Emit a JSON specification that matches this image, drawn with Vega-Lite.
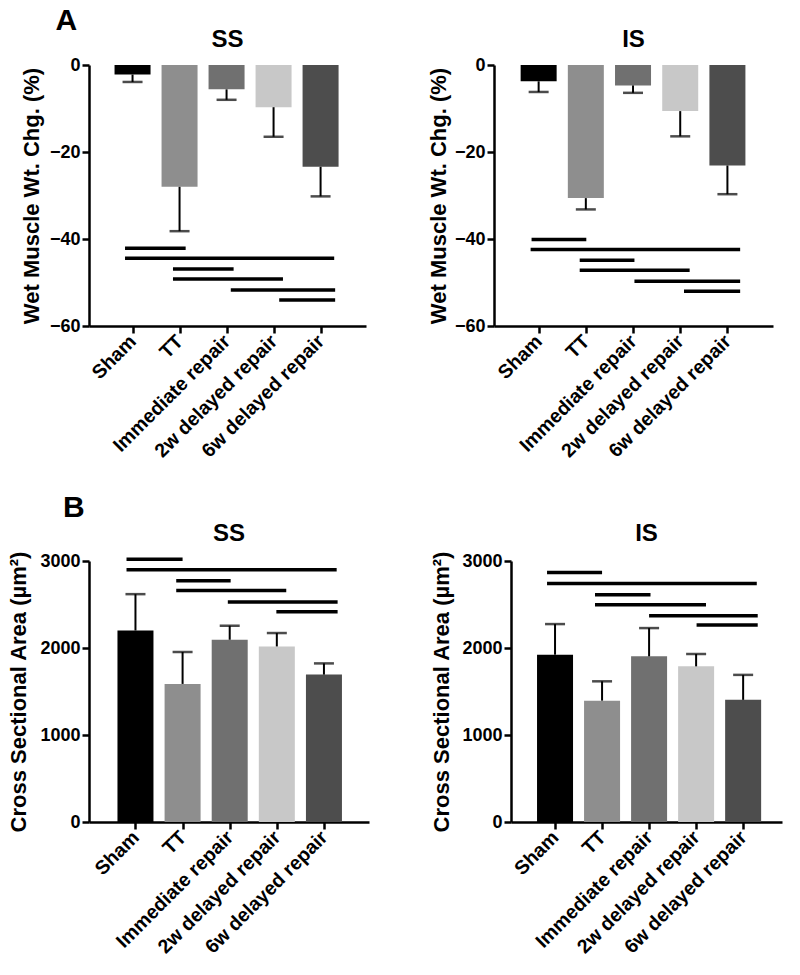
{
  "$schema": "https://vega.github.io/schema/vega-lite/v6.json",
  "padding": {"left": 0, "top": 6, "right": 5, "bottom": 5},
  "datasets": {
    "A_SS_bars": [
      {"i": 0, "g": "Sham", "mean": -2.2, "end": -3.9},
      {"i": 1, "g": "TT", "mean": -28.0, "end": -38.2},
      {"i": 2, "g": "Immediate repair", "mean": -5.6, "end": -8.0},
      {"i": 3, "g": "2w delayed repair", "mean": -9.7, "end": -16.5},
      {"i": 4, "g": "6w delayed repair", "mean": -23.4, "end": -30.2}
    ],
    "A_SS_sig": [
      {"x1": -0.16, "x2": 1.13, "y": -42.1},
      {"x1": -0.16, "x2": 4.29, "y": -44.4},
      {"x1": 0.86, "x2": 2.15, "y": -46.9},
      {"x1": 0.86, "x2": 3.2, "y": -49.2},
      {"x1": 2.09, "x2": 4.31, "y": -51.7},
      {"x1": 3.12, "x2": 4.31, "y": -54.0}
    ],
    "A_IS_bars": [
      {"i": 0, "g": "Sham", "mean": -3.75, "end": -6.2},
      {"i": 1, "g": "TT", "mean": -30.6, "end": -33.2},
      {"i": 2, "g": "Immediate repair", "mean": -4.7, "end": -6.4},
      {"i": 3, "g": "2w delayed repair", "mean": -10.6, "end": -16.4},
      {"i": 4, "g": "6w delayed repair", "mean": -23.1, "end": -29.7}
    ],
    "A_IS_sig": [
      {"x1": -0.15, "x2": 1.01, "y": -40.1},
      {"x1": -0.17, "x2": 4.27, "y": -42.4},
      {"x1": 0.87, "x2": 2.03, "y": -44.9},
      {"x1": 0.87, "x2": 3.2, "y": -47.2},
      {"x1": 2.03, "x2": 4.27, "y": -49.7},
      {"x1": 3.08, "x2": 4.27, "y": -52.0}
    ],
    "B_SS_bars": [
      {"i": 0, "g": "Sham", "mean": 2201, "end": 2619},
      {"i": 1, "g": "TT", "mean": 1587, "end": 1954},
      {"i": 2, "g": "Immediate repair", "mean": 2095, "end": 2256},
      {"i": 3, "g": "2w delayed repair", "mean": 2018, "end": 2172},
      {"i": 4, "g": "6w delayed repair", "mean": 1694, "end": 1823}
    ],
    "B_SS_sig": [
      {"x1": -0.19, "x2": 1.0, "y": 3020},
      {"x1": -0.19, "x2": 4.27, "y": 2898},
      {"x1": 0.865, "x2": 2.02, "y": 2772},
      {"x1": 0.865, "x2": 3.2, "y": 2661},
      {"x1": 1.96, "x2": 4.29, "y": 2528},
      {"x1": 2.99, "x2": 4.29, "y": 2416}
    ],
    "B_IS_bars": [
      {"i": 0, "g": "Sham", "mean": 1923, "end": 2275},
      {"i": 1, "g": "TT", "mean": 1395, "end": 1617},
      {"i": 2, "g": "Immediate repair", "mean": 1904, "end": 2229},
      {"i": 3, "g": "2w delayed repair", "mean": 1789, "end": 1931},
      {"i": 4, "g": "6w delayed repair", "mean": 1404, "end": 1691}
    ],
    "B_IS_sig": [
      {"x1": -0.17, "x2": 1.0, "y": 2867},
      {"x1": -0.17, "x2": 4.29, "y": 2741},
      {"x1": 0.85, "x2": 2.03, "y": 2611},
      {"x1": 0.85, "x2": 3.21, "y": 2497},
      {"x1": 2.0, "x2": 4.31, "y": 2370},
      {"x1": 3.01, "x2": 4.31, "y": 2264}
    ]
  },
  "vconcat": [
    {
      "title": {"text": "A", "anchor": "start", "fontSize": 30, "dx": 55, "offset": -8},
      "spacing": 128,
      "bounds": "flush",
      "resolve": {"scale": {"x": "independent", "y": "independent", "color": "independent"}},
      "hconcat": [
        {
          "width": 277, "height": 261,
          "title": {"text": "SS", "offset": 4},
          "layer": [
            {
              "data": {"name": "A_SS_bars"},
              "mark": {"type": "bar", "orient": "vertical", "width": 36},
              "encoding": {
                "x": {"field": "i", "type": "quantitative", "scale": {"domain": [-0.82, 4.86], "nice": false, "zero": false},
                  "axis": {"values": [0, 1, 2, 3, 4], "labelExpr": "['Sham','TT','Immediate repair','2w delayed repair','6w delayed repair'][datum.value]", "title": null, "labelAngle": -45, "labelAlign": "right", "labelBaseline": "middle", "labelPadding": 5, "labelFontSize": 19.5, "labelOverlap": false}},
                "y": {"field": "mean", "type": "quantitative", "scale": {"domain": [-60, 0], "nice": false},
                  "axis": {"values": [-60, -40, -20, 0], "format": "d", "title": ["", "Wet Muscle Wt. Chg. (%)"], "titleLineHeight": 20, "titlePadding": 6, "labelPadding": 2}},
                "color": {"field": "g", "type": "nominal", "legend": null,
                  "scale": {"domain": ["Sham", "TT", "Immediate repair", "2w delayed repair", "6w delayed repair"], "range": ["#000000", "#8e8e8e", "#707070", "#c8c8c8", "#4d4d4d"]}}
              }
            },
            {
              "data": {"name": "A_SS_bars"},
              "mark": {"type": "rule", "color": "black", "strokeWidth": 2},
              "encoding": {"x": {"field": "i", "type": "quantitative"}, "y": {"field": "mean", "type": "quantitative"}, "y2": {"field": "end"}}
            },
            {
              "data": {"name": "A_SS_bars"},
              "mark": {"type": "tick", "orient": "horizontal", "color": "black", "size": 20, "thickness": 2.5},
              "encoding": {"x": {"field": "i", "type": "quantitative"}, "y": {"field": "end", "type": "quantitative"}}
            },
            {
              "data": {"name": "A_SS_sig"},
              "mark": {"type": "rule", "color": "black", "strokeWidth": 3.5},
              "encoding": {"x": {"field": "x1", "type": "quantitative"}, "x2": {"field": "x2"}, "y": {"field": "y", "type": "quantitative"}}
            },
            {
              "mark": {"type": "rule", "color": "black", "strokeWidth": 2.5},
              "encoding": {"y": {"datum": 0, "type": "quantitative"}}
            }
          ]
        },
        {
          "width": 279, "height": 261,
          "title": {"text": "IS", "offset": 4},
          "layer": [
            {
              "data": {"name": "A_IS_bars"},
              "mark": {"type": "bar", "orient": "vertical", "width": 36},
              "encoding": {
                "x": {"field": "i", "type": "quantitative", "scale": {"domain": [-0.84, 4.86], "nice": false, "zero": false},
                  "axis": {"values": [0, 1, 2, 3, 4], "labelExpr": "['Sham','TT','Immediate repair','2w delayed repair','6w delayed repair'][datum.value]", "title": null, "labelAngle": -45, "labelAlign": "right", "labelBaseline": "middle", "labelPadding": 5, "labelFontSize": 19.5, "labelOverlap": false}},
                "y": {"field": "mean", "type": "quantitative", "scale": {"domain": [-60, 0], "nice": false},
                  "axis": {"values": [-60, -40, -20, 0], "format": "d", "title": "Wet Muscle Wt. Chg. (%)", "titlePadding": 4, "labelPadding": 2}},
                "color": {"field": "g", "type": "nominal", "legend": null,
                  "scale": {"domain": ["Sham", "TT", "Immediate repair", "2w delayed repair", "6w delayed repair"], "range": ["#000000", "#8e8e8e", "#707070", "#c8c8c8", "#4d4d4d"]}}
              }
            },
            {
              "data": {"name": "A_IS_bars"},
              "mark": {"type": "rule", "color": "black", "strokeWidth": 2},
              "encoding": {"x": {"field": "i", "type": "quantitative"}, "y": {"field": "mean", "type": "quantitative"}, "y2": {"field": "end"}}
            },
            {
              "data": {"name": "A_IS_bars"},
              "mark": {"type": "tick", "orient": "horizontal", "color": "black", "size": 20, "thickness": 2.5},
              "encoding": {"x": {"field": "i", "type": "quantitative"}, "y": {"field": "end", "type": "quantitative"}}
            },
            {
              "data": {"name": "A_IS_sig"},
              "mark": {"type": "rule", "color": "black", "strokeWidth": 3.5},
              "encoding": {"x": {"field": "x1", "type": "quantitative"}, "x2": {"field": "x2"}, "y": {"field": "y", "type": "quantitative"}}
            },
            {
              "mark": {"type": "rule", "color": "black", "strokeWidth": 2.5},
              "encoding": {"y": {"datum": 0, "type": "quantitative"}}
            }
          ]
        }
      ]
    },
    {
      "title": {"text": "B", "anchor": "start", "fontSize": 30, "dx": 55, "offset": -1},
      "spacing": 142,
      "bounds": "flush",
      "resolve": {"scale": {"x": "independent", "y": "independent", "color": "independent"}},
      "hconcat": [
        {
          "width": 280, "height": 261,
          "title": {"text": "SS", "offset": 5},
          "layer": [
            {
              "data": {"name": "B_SS_bars"},
              "mark": {"type": "bar", "orient": "vertical", "width": 36},
              "encoding": {
                "x": {"field": "i", "type": "quantitative", "scale": {"domain": [-0.88, 4.85], "nice": false, "zero": false},
                  "axis": {"values": [0, 1, 2, 3, 4], "labelExpr": "['Sham','TT','Immediate repair','2w delayed repair','6w delayed repair'][datum.value]", "title": null, "labelAngle": -45, "labelAlign": "right", "labelBaseline": "middle", "labelPadding": 5, "labelFontSize": 19.5, "labelOverlap": false}},
                "y": {"field": "mean", "type": "quantitative", "scale": {"domain": [0, 3000], "nice": false},
                  "axis": {"values": [0, 1000, 2000, 3000], "format": "d", "title": "Cross Sectional Area (µm²)", "titlePadding": 9, "labelPadding": 2}},
                "color": {"field": "g", "type": "nominal", "legend": null,
                  "scale": {"domain": ["Sham", "TT", "Immediate repair", "2w delayed repair", "6w delayed repair"], "range": ["#000000", "#8e8e8e", "#707070", "#c8c8c8", "#4d4d4d"]}}
              }
            },
            {
              "data": {"name": "B_SS_bars"},
              "mark": {"type": "rule", "color": "black", "strokeWidth": 2},
              "encoding": {"x": {"field": "i", "type": "quantitative"}, "y": {"field": "mean", "type": "quantitative"}, "y2": {"field": "end"}}
            },
            {
              "data": {"name": "B_SS_bars"},
              "mark": {"type": "tick", "orient": "horizontal", "color": "black", "size": 20, "thickness": 2.5},
              "encoding": {"x": {"field": "i", "type": "quantitative"}, "y": {"field": "end", "type": "quantitative"}}
            },
            {
              "data": {"name": "B_SS_sig"},
              "mark": {"type": "rule", "color": "black", "strokeWidth": 3.5},
              "encoding": {"x": {"field": "x1", "type": "quantitative"}, "x2": {"field": "x2"}, "y": {"field": "y", "type": "quantitative"}}
            }
          ]
        },
        {
          "width": 271, "height": 261,
          "title": {"text": "IS", "offset": 5},
          "layer": [
            {
              "data": {"name": "B_IS_bars"},
              "mark": {"type": "bar", "orient": "vertical", "width": 36},
              "encoding": {
                "x": {"field": "i", "type": "quantitative", "scale": {"domain": [-0.83, 4.72], "nice": false, "zero": false},
                  "axis": {"values": [0, 1, 2, 3, 4], "labelExpr": "['Sham','TT','Immediate repair','2w delayed repair','6w delayed repair'][datum.value]", "title": null, "labelAngle": -45, "labelAlign": "right", "labelBaseline": "middle", "labelPadding": 5, "labelFontSize": 19.5, "labelOverlap": false}},
                "y": {"field": "mean", "type": "quantitative", "scale": {"domain": [0, 3000], "nice": false},
                  "axis": {"values": [0, 1000, 2000, 3000], "format": "d", "title": "Cross Sectional Area (µm²)", "titlePadding": 8, "labelPadding": 2}},
                "color": {"field": "g", "type": "nominal", "legend": null,
                  "scale": {"domain": ["Sham", "TT", "Immediate repair", "2w delayed repair", "6w delayed repair"], "range": ["#000000", "#8e8e8e", "#707070", "#c8c8c8", "#4d4d4d"]}}
              }
            },
            {
              "data": {"name": "B_IS_bars"},
              "mark": {"type": "rule", "color": "black", "strokeWidth": 2},
              "encoding": {"x": {"field": "i", "type": "quantitative"}, "y": {"field": "mean", "type": "quantitative"}, "y2": {"field": "end"}}
            },
            {
              "data": {"name": "B_IS_bars"},
              "mark": {"type": "tick", "orient": "horizontal", "color": "black", "size": 20, "thickness": 2.5},
              "encoding": {"x": {"field": "i", "type": "quantitative"}, "y": {"field": "end", "type": "quantitative"}}
            },
            {
              "data": {"name": "B_IS_sig"},
              "mark": {"type": "rule", "color": "black", "strokeWidth": 3.5},
              "encoding": {"x": {"field": "x1", "type": "quantitative"}, "x2": {"field": "x2"}, "y": {"field": "y", "type": "quantitative"}}
            }
          ]
        }
      ]
    }
  ],
  "spacing": 31,
  "resolve": {"scale": {"x": "independent", "y": "independent", "color": "independent"}},
  "config": {
    "font": "Liberation Sans",
    "view": {"stroke": null},
    "axis": {"domainColor": "black", "domainWidth": 2.5, "tickColor": "black", "tickWidth": 2.5, "tickSize": 7, "labelColor": "black", "labelFontSize": 18, "labelFontWeight": "bold", "labelFont": "Liberation Sans", "titleColor": "black", "titleFontSize": 22, "titleFontWeight": "bold", "titleFont": "Liberation Sans", "grid": false},
    "title": {"fontSize": 24, "fontWeight": "bold", "color": "black", "font": "Liberation Sans"}
  }
}
